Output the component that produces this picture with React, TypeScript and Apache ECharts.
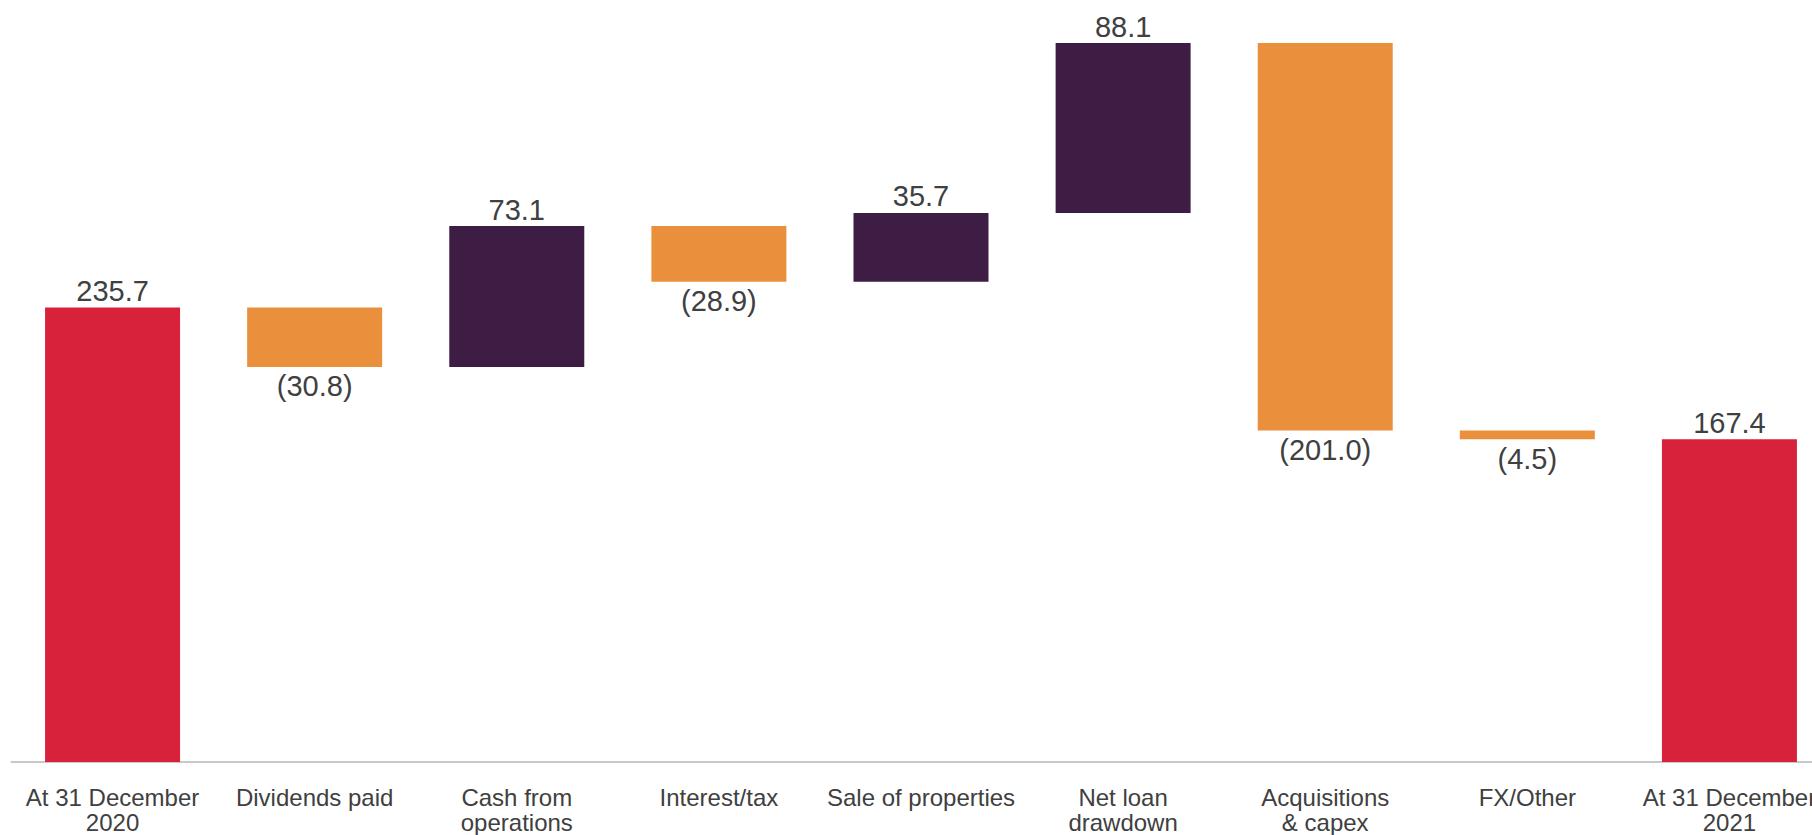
import React, { useEffect, useRef } from "react";
import * as echarts from "echarts";

const categories = [
  "At 31 December\n2020",
  "Dividends paid",
  "Cash from\noperations",
  "Interest/tax",
  "Sale of properties",
  "Net loan\ndrawdown",
  "Acquisitions\n& capex",
  "FX/Other",
  "At 31 December\n2021",
];
const changes = [235.7, -30.8, 73.1, -28.9, 35.7, 88.1, -201.0, -4.5, 167.4];
const kinds = ["total", "decrease", "increase", "decrease", "increase", "increase", "decrease", "decrease", "total"];

const COLORS: Record<string, string> = {
  total: "#d8223b",
  increase: "#3e1d44",
  decrease: "#ea903c",
};

export default function App() {
  const ref = useRef<HTMLDivElement>(null);
  useEffect(() => {
    if (!ref.current) return;
    const chart = echarts.init(ref.current, undefined, { renderer: "svg" });
    let running = 0;
    const bases: number[] = [];
    const heights: any[] = [];
    changes.forEach((v, i) => {
      const kind = kinds[i];
      let base = 0;
      let h = 0;
      if (kind === "total") {
        base = 0;
        h = v;
        running = v;
      } else if (v >= 0) {
        base = running;
        h = v;
        running += v;
      } else {
        base = running + v;
        h = -v;
        running += v;
      }
      bases.push(Math.round(base * 10) / 10);
      const neg = kind !== "total" && v < 0;
      heights.push({
        value: Math.round(h * 10) / 10,
        itemStyle: { color: COLORS[kind] },
        label: {
          show: true,
          position: neg ? "bottom" : "top",
          distance: neg ? 5 : 2,
          formatter: neg ? `(${Math.abs(v).toFixed(1)})` : v.toFixed(1),
        },
      });
    });
    const font = "'Liberation Sans', Arial, Helvetica, sans-serif";
    chart.setOption({
      animation: false,
      grid: { left: 11.5, right: 19.5, top: 29.4, bottom: 73, containLabel: false },
      xAxis: {
        type: "category",
        data: categories,
        axisLine: { show: true, lineStyle: { color: "#c8c8c8", width: 2 } },
        axisTick: { show: false },
        axisLabel: {
          interval: 0,
          margin: 23,
          color: "#404040",
          fontSize: 24,
          lineHeight: 25,
          fontFamily: font,
          hideOverlap: false,
        },
      },
      yAxis: {
        type: "value",
        min: 0,
        max: 380,
        show: false,
        splitLine: { show: false },
      },
      series: [
        {
          type: "bar",
          stack: "w",
          data: bases,
          itemStyle: { color: "transparent" },
          barWidth: 135,
          silent: true,
        },
        {
          type: "bar",
          stack: "w",
          data: heights,
          barWidth: 135,
          label: {
            show: true,
            color: "#404040",
            fontSize: 29,
            fontFamily: font,
          },
        },
      ],
    });
    return () => chart.dispose();
  }, []);
  return (
    <div style={{ position: "absolute", left: 0, top: 0, width: 1812, height: 835, overflow: "hidden", background: "#fff" }}>
      <div ref={ref} style={{ width: 1850, height: 835 }} />
    </div>
  );
}
